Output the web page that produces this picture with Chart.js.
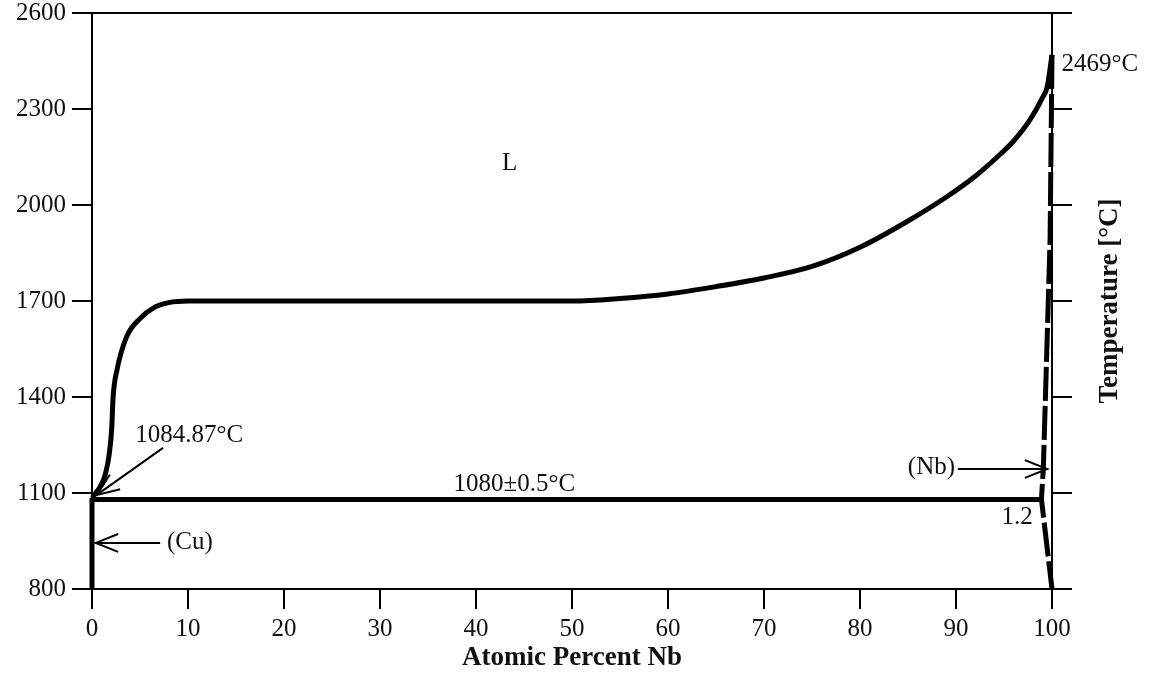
<!DOCTYPE html>
<html>
<head>
<meta charset="utf-8">
<script src="https://cdn.jsdelivr.net/npm/chart.js@4/dist/chart.umd.min.js"></script>
<style>
    body { margin: 0; background: #fff; }
    #wrap { width: 1157px; height: 682px; }
</style>
</head>
<body>
<div id="wrap"><canvas id="phase_chart"></canvas></div>
<script>
// liquidus
let liqX = [0, 0.4, 0.9, 1.4, 1.8, 2.05, 2.2, 2.6, 3.6, 5, 6.5, 8, 10, 50, 55, 60, 65, 70, 75, 80, 85, 89, 92, 94.3, 96, 97.7, 99, 99.5, 100];
let liqT = [1084.87, 1100, 1122, 1160, 1222, 1300, 1400, 1484, 1588, 1645, 1680, 1695, 1700, 1700, 1708, 1722, 1745, 1772, 1808, 1868, 1950, 2025, 2090, 2150, 2200, 2266, 2335, 2369, 2469];

// eutectic line
let eutX = [0, 98.9];
let eutT = [1080, 1080];

// (Cu) solvus
let cuX = [0, 0];
let cuT = [800, 1084.87];

// (Nb) solidus / solvus, dashed
let nbX = [100, 99.8, 99.1, 98.9, 100];
let nbT = [2469, 1890, 1181, 1080, 800];

let xTicks = [0, 10, 20, 30, 40, 50, 60, 70, 80, 90, 100];
let yTicks = [800, 1100, 1400, 1700, 2000, 2300, 2600];

// labels on the diagram
let noteText = ['L', '1084.87°C', '(Cu)', '1080±0.5°C', '(Nb)', '1.2', '2469°C'];
let noteX = [43.5, 4.5, 7.8, 44.0, 89.9, 98.0, 101.0];
let noteT = [2130, 1281, 944, 1128, 1181, 1025, 2440];
let noteAlign = ['center', 'left', 'left', 'center', 'right', 'right', 'left'];

// arrows: from -> to
let arrowFromX = [7.4, 7.1, 90.2];
let arrowFromT = [1241, 944, 1175];
let arrowToX = [0.5, 0.4, 99.5];
let arrowToT = [1094, 944, 1175];

const serif = "'Liberation Serif', 'DejaVu Serif', serif";
const ink = '#111';

function toPoints(xs, ys) {
    return xs.map(function (x, i) {
        return {x: x, y: ys[i]};
    });
}

function lineSet(xs, ys, extra) {
    return Object.assign({
        data: toPoints(xs, ys),
        borderColor: '#000',
        borderWidth: 5,
        pointRadius: 0,
        fill: false,
        clip: false,
        tension: 0
    }, extra || {});
}

const notesPlugin = {
    id: 'notes',
    afterDatasetsDraw: function (chart) {
        const ctx = chart.ctx;
        const xs = chart.scales.x;
        const ys = chart.scales.y;
        ctx.save();

        // arrows
        ctx.strokeStyle = '#000';
        ctx.lineWidth = 2;
        for (let i = 0; i < arrowFromX.length; i++) {
            let x1 = xs.getPixelForValue(arrowFromX[i]);
            let y1 = ys.getPixelForValue(arrowFromT[i]);
            let x2 = xs.getPixelForValue(arrowToX[i]);
            let y2 = ys.getPixelForValue(arrowToT[i]);
            let a = Math.atan2(y2 - y1, x2 - x1);
            ctx.beginPath();
            ctx.moveTo(x1, y1);
            ctx.lineTo(x2, y2);
            ctx.stroke();
            ctx.beginPath();
            ctx.moveTo(x2 - 24 * Math.cos(a - 0.38), y2 - 24 * Math.sin(a - 0.38));
            ctx.lineTo(x2, y2);
            ctx.lineTo(x2 - 24 * Math.cos(a + 0.38), y2 - 24 * Math.sin(a + 0.38));
            ctx.stroke();
        }

        // texts
        ctx.fillStyle = ink;
        ctx.font = '25px ' + serif;
        ctx.textBaseline = 'middle';
        for (let i = 0; i < noteText.length; i++) {
            ctx.textAlign = noteAlign[i];
            ctx.fillText(noteText[i], xs.getPixelForValue(noteX[i]), ys.getPixelForValue(noteT[i]));
        }

        // right-hand axis title, reading upwards
        const area = chart.chartArea;
        ctx.translate(1110, (area.top + area.bottom) / 2);
        ctx.rotate(-Math.PI / 2);
        ctx.textAlign = 'center';
        ctx.font = 'bold 27px ' + serif;
        ctx.fillText('Temperature [°C]', 0, 0);
        ctx.restore();
    }
};

const axisGrid = {
    drawOnChartArea: false,
    color: '#000',
    lineWidth: 2,
    tickLength: 20
};
const axisBorder = {color: '#000', width: 2};
const tickFont = {family: serif, size: 25, lineHeight: 1.0};

// fixed box sizes, no extra room for overhanging labels
function fitY(width) {
    return function (s) {
        s.width = width;
        s.paddingTop = 0;
        s.paddingBottom = 0;
    };
}

new Chart(document.getElementById('phase_chart'), {
    type: 'line',
    data: {
        datasets: [
            lineSet(liqX, liqT, {cubicInterpolationMode: 'monotone'}),
            lineSet(eutX, eutT),
            lineSet(cuX, cuT),
            lineSet(nbX, nbT, {borderDash: [34, 5]})
        ]
    },
    options: {
        responsive: true,
        maintainAspectRatio: false,
        animation: false,
        layout: {padding: 0},
        plugins: {
            legend: {display: false},
            tooltip: {enabled: false}
        },
        scales: {
            x: {
                type: 'linear',
                position: 'bottom',
                min: 0,
                max: 100,
                afterBuildTicks: function (s) {
                    s.ticks = xTicks.map(function (v) { return {value: v}; });
                },
                ticks: {
                    color: ink, font: tickFont, padding: 8, maxRotation: 0,
                    callback: function (v) { return String(v); }
                },
                grid: axisGrid,
                border: axisBorder,
                title: {
                    display: true,
                    text: 'Atomic Percent Nb',
                    color: ink,
                    font: {family: serif, size: 27, weight: 'bold'},
                    padding: {top: 0, bottom: 8}
                },
                afterFit: function (s) { s.height = 93; }
            },
            xTop: {
                type: 'linear',
                position: 'top',
                display: true,
                min: 0,
                max: 100,
                ticks: {display: false},
                grid: {display: false, drawTicks: false},
                border: axisBorder,
                afterFit: function (s) { s.height = 13; }
            },
            y: {
                type: 'linear',
                position: 'left',
                min: 800,
                max: 2600,
                afterBuildTicks: function (s) {
                    s.ticks = yTicks.map(function (v) { return {value: v}; });
                },
                ticks: {
                    color: ink, font: tickFont, padding: 6,
                    callback: function (v) { return String(v); }
                },
                grid: axisGrid,
                border: axisBorder,
                afterFit: fitY(92)
            },
            yRight: {
                type: 'linear',
                position: 'right',
                display: true,
                min: 800,
                max: 2600,
                afterBuildTicks: function (s) {
                    s.ticks = yTicks.map(function (v) { return {value: v}; });
                },
                ticks: {font: tickFont, callback: function () { return ''; }},
                grid: axisGrid,
                border: axisBorder,
                afterFit: fitY(105)
            }
        }
    },
    plugins: [notesPlugin]
});
</script>
</body>
</html>
